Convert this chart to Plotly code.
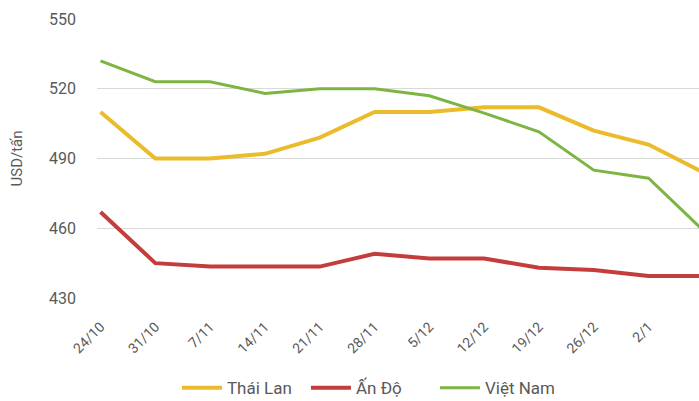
import plotly.graph_objects as go

categories = ["24/10", "31/10", "7/11", "14/11", "21/11", "28/11", "5/12", "12/12", "19/12", "26/12", "2/1", "9/1"]
thai_lan = [510, 490, 490, 492, 499, 510, 510, 512, 512, 502, 496, 484]
an_do = [467, 445, 443.5, 443.5, 443.5, 449, 447, 447, 443, 442, 439.5, 439.5]
viet_nam = [532, 523, 523, 518, 520, 520, 517, 509.5, 501.5, 485, 481.5, 459]
y_ticks = [430, 460, 490, 520, 550]

FONT = "Roboto"
GRAY = "#595959"

fig = go.Figure()
fig.add_trace(go.Scatter(x=categories, y=thai_lan, name="Thái Lan", mode="lines",
                         line=dict(color="#EBBB2C", width=4)))
fig.add_trace(go.Scatter(x=categories, y=an_do, name="Ấn Độ", mode="lines",
                         line=dict(color="#C43D3D", width=4)))
fig.add_trace(go.Scatter(x=categories, y=viet_nam, name="Việt Nam", mode="lines",
                         line=dict(color="#7DB443", width=3)))

# last category label (cut off at the right edge like the reference)
fig.add_annotation(x=len(categories) - 1, y=0, xref="x", yref="paper",
                   text=categories[-1], showarrow=False, textangle=-45,
                   xanchor="right", yanchor="top", yshift=-18, xshift=4,
                   font=dict(family=FONT, size=14, color=GRAY))

fig.update_layout(
    width=699, height=401,
    margin=dict(l=97, r=0, t=19, b=103, autoexpand=False),
    paper_bgcolor="white", plot_bgcolor="white",
    font=dict(family=FONT, size=14, color=GRAY),
    showlegend=True,
    legend=dict(orientation="h", xref="container", yref="container",
                x=0.53, xanchor="center", y=0.077, yanchor="top",
                font=dict(family=FONT, size=17, color=GRAY), itemwidth=40,
                entrywidth=74, entrywidthmode="pixels",
                tracegroupgap=0),
    xaxis=dict(type="category", range=[-0.064, 10.92], showgrid=False, zeroline=False,
               showline=False, ticks="", tickangle=-45, automargin=False,
               ticklabelstandoff=17,
               tickfont=dict(family=FONT, size=14, color=GRAY)),
    yaxis=dict(range=[430, 550], tickvals=y_ticks, showgrid=True, gridcolor="#D9D9D9",
               gridwidth=1, zeroline=False, showline=False, ticks="",
               ticklabelstandoff=20, automargin=False,
               tickfont=dict(family=FONT, size=16, color=GRAY),
               title=dict(text="USD/tấn", font=dict(family=FONT, size=15, color=GRAY),
                          standoff=22)),
)

fig.write_html("out.html", config={"displayModeBar": False},
               post_script="document.body.style.margin='0';document.body.style.overflow='hidden';")
